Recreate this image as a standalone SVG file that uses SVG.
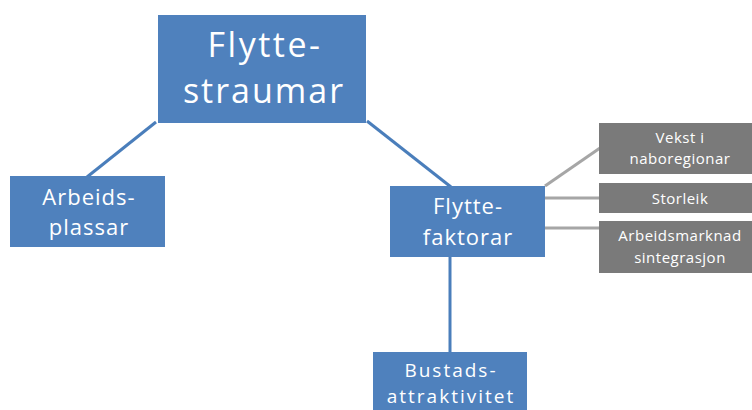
<svg xmlns="http://www.w3.org/2000/svg" width="752" height="410" viewBox="0 0 752 410">
<style>
.b{fill:#4f81bd}
.g{fill:#7a7a7a}
.t{font-family:"Open Sans","Noto Sans",sans-serif;fill:#fff;text-anchor:middle}
.l1{stroke:#4a7ebb;stroke-width:3;fill:none}
.l2{stroke:#a6a6a6;stroke-width:3;fill:none}
</style>
<rect width="752" height="410" fill="#fff"/>
<g id="connectors">
<line class="l1" x1="156" y1="122" x2="87" y2="177"/>
<line class="l1" x1="367" y1="121" x2="451" y2="187"/>
<line class="l1" x1="450" y1="256" x2="450" y2="353"/>
<line class="l2" x1="545" y1="186" x2="600" y2="148"/>
<line class="l2" x1="545" y1="198" x2="600" y2="198"/>
<line class="l2" x1="545" y1="228" x2="600" y2="228"/>
</g>
<g id="flyttestraumar">
<rect class="b" x="158" y="15" width="208" height="108"/>
<text class="t" x="265" y="57" font-size="34" letter-spacing="2.5">Flytte-</text>
<text class="t" x="264" y="103" font-size="34" letter-spacing="2">straumar</text>
</g>
<g id="arbeidsplassar">
<rect class="b" x="10" y="176" width="155" height="71"/>
<text class="t" x="89" y="205" font-size="22" letter-spacing="1">Arbeids-</text>
<text class="t" x="89" y="235" font-size="22" letter-spacing="1">plassar</text>
</g>
<g id="flyttefaktorar">
<rect class="b" x="390" y="186" width="155" height="71"/>
<text class="t" x="468" y="214" font-size="22" letter-spacing="1">Flytte-</text>
<text class="t" x="468" y="245" font-size="22" letter-spacing="1">faktorar</text>
</g>
<g id="bustads">
<rect class="b" x="373" y="352" width="154" height="62"/>
<text class="t" x="451" y="377" font-size="19" letter-spacing="2">Bustads-</text>
<text class="t" x="451" y="403" font-size="19" letter-spacing="2">attraktivitet</text>
</g>
<g id="vekst">
<rect class="g" x="599" y="123" width="155" height="51"/>
<text class="t" x="680" y="143" font-size="15" letter-spacing="0.5">Vekst  i</text>
<text class="t" x="680" y="164" font-size="15" letter-spacing="0.5">naboregionar</text>
</g>
<g id="storleik">
<rect class="g" x="599" y="183" width="155" height="30"/>
<text class="t" x="680" y="204" font-size="15" letter-spacing="0.5">Storleik</text>
</g>
<g id="arbeidsmarknad">
<rect class="g" x="599" y="221" width="155" height="52"/>
<text class="t" x="680" y="241" font-size="15" letter-spacing="0.5">Arbeidsmarknad</text>
<text class="t" x="680" y="263" font-size="15" letter-spacing="0.5">sintegrasjon</text>
</g>
</svg>
